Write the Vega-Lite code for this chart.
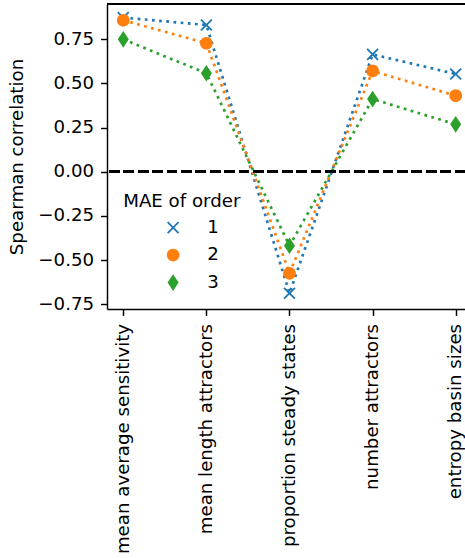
{
  "$schema": "https://vega.github.io/schema/vega-lite/v6.json",
  "width": 358,
  "height": 305,
  "autosize": {"type": "none"},
  "padding": {"left": 107, "top": 4, "right": 0, "bottom": 249},
  "background": "white",
  "config": {
    "font": "DejaVu Sans",
    "view": {"stroke": null},
    "axis": {
      "grid": false,
      "domainColor": "black",
      "domainWidth": 1.46,
      "tickColor": "black",
      "tickWidth": 1.46,
      "tickSize": 6.4,
      "labelColor": "black",
      "labelFont": "DejaVu Sans",
      "labelFontSize": 18.2,
      "labelLimit": 0,
      "titleColor": "black",
      "titleFont": "DejaVu Sans",
      "titleFontSize": 18.2,
      "titleFontWeight": "normal"
    },
    "legend": {
      "orient": "none",
      "legendX": 16.2,
      "legendY": 189.3,
      "padding": 0,
      "titleFont": "DejaVu Sans",
      "titleFontSize": 18.2,
      "titleFontWeight": "normal",
      "titleColor": "black",
      "titlePadding": 7,
      "labelFont": "DejaVu Sans",
      "labelFontSize": 18.2,
      "labelFontWeight": "normal",
      "labelColor": "black",
      "labelLimit": 0,
      "symbolSize": 144,
      "symbolStrokeWidth": 0,
      "symbolOpacity": 1,
      "symbolOffset": 40.8,
      "labelOffset": 25,
      "rowPadding": 8.5
    }
  },
  "data": {
    "values": [
      {"measure": "mean average sensitivity", "pos": 0, "order": "1", "rho": 0.872},
      {"measure": "mean length attractors", "pos": 1, "order": "1", "rho": 0.83},
      {"measure": "proportion steady states", "pos": 2, "order": "1", "rho": -0.688},
      {"measure": "number attractors", "pos": 3, "order": "1", "rho": 0.664},
      {"measure": "entropy basin sizes", "pos": 4, "order": "1", "rho": 0.553},
      {"measure": "mean average sensitivity", "pos": 0, "order": "2", "rho": 0.857},
      {"measure": "mean length attractors", "pos": 1, "order": "2", "rho": 0.727},
      {"measure": "proportion steady states", "pos": 2, "order": "2", "rho": -0.575},
      {"measure": "number attractors", "pos": 3, "order": "2", "rho": 0.57},
      {"measure": "entropy basin sizes", "pos": 4, "order": "2", "rho": 0.43},
      {"measure": "mean average sensitivity", "pos": 0, "order": "3", "rho": 0.749},
      {"measure": "mean length attractors", "pos": 1, "order": "3", "rho": 0.557},
      {"measure": "proportion steady states", "pos": 2, "order": "3", "rho": -0.419},
      {"measure": "number attractors", "pos": 3, "order": "3", "rho": 0.411},
      {"measure": "entropy basin sizes", "pos": 4, "order": "3", "rho": 0.268}
    ]
  },
  "layer": [
    {
      "mark": {"type": "line", "strokeWidth": 2.7, "strokeDash": [2.7, 4.5], "strokeCap": "butt"},
      "encoding": {
        "x": {
          "field": "pos", "type": "quantitative",
          "scale": {"domain": [-0.196, 4.112], "nice": false, "zero": false},
          "axis": {
            "values": [0, 1, 2, 3, 4],
            "labelExpr": "['mean average sensitivity','mean length attractors','proportion steady states','number attractors','entropy basin sizes'][datum.value]",
            "labelAngle": 270,
            "labelAlign": "right",
            "labelBaseline": "middle",
            "labelPadding": 8,
            "labelOverlap": false,
            "labelFlush": false,
            "title": null
          }
        },
        "y": {
          "field": "rho", "type": "quantitative",
          "scale": {"domain": [-0.777, 0.949], "nice": false, "zero": false},
          "axis": {
            "values": [-0.75, -0.5, -0.25, 0, 0.25, 0.5, 0.75],
            "format": ".2f",
            "labelPadding": 7,
            "labelFlush": false,
            "labelOverlap": false,
            "title": "Spearman correlation",
            "titlePadding": 11.7
          }
        },
        "stroke": {
          "field": "order", "type": "nominal",
          "scale": {"range": ["#1f77b4", "#ff7f0e", "#2ca02c"]},
          "legend": null
        }
      }
    },
    {
      "mark": {"type": "point", "filled": true, "opacity": 1, "size": 144, "strokeWidth": 0},
      "encoding": {
        "x": {"field": "pos", "type": "quantitative"},
        "y": {"field": "rho", "type": "quantitative"},
        "color": {
          "field": "order", "type": "nominal",
          "title": "MAE of order",
          "scale": {"domain": ["1", "2", "3"], "range": ["#1f77b4", "#ff7f0e", "#2ca02c"]}
        },
        "shape": {
          "field": "order", "type": "nominal",
          "title": "MAE of order",
          "scale": {
            "domain": ["1", "2", "3"],
            "range": [
              "M-0.801,-1.015L1.015,0.801L0.801,1.015L-1.015,-0.801Z M-1.015,0.801L0.801,-1.015L1.015,-0.801L-0.801,1.015Z",
              "M1.058,0A1.058,1.058,0,1,1,-1.058,0A1.058,1.058,0,1,1,1.058,0Z",
              "M0,-1.39L0.92,0L0,1.39L-0.92,0Z"
            ]
          }
        }
      }
    },
    {
      "mark": {"type": "rule", "color": "black", "strokeWidth": 2.7, "strokeDash": [10, 4.4], "strokeCap": "butt"},
      "encoding": {
        "y": {"datum": 0, "type": "quantitative"}
      }
    },
    {
      "mark": {"type": "rule", "color": "black", "strokeWidth": 1.46},
      "encoding": {
        "y": {"datum": 0.949, "type": "quantitative"}
      }
    }
  ]
}
